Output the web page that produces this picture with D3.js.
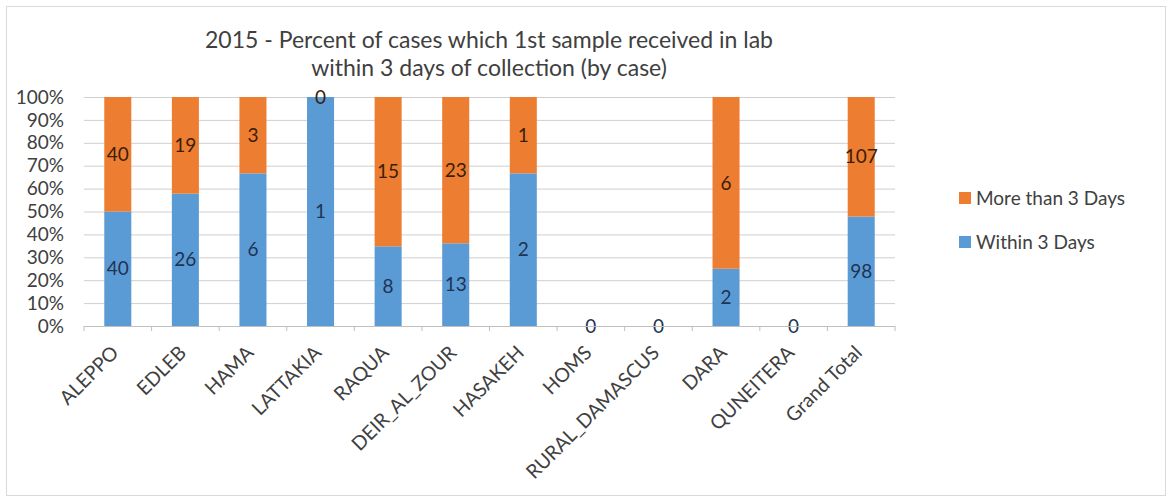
<!DOCTYPE html>
<html>
<head>
<meta charset="utf-8">
<script src="https://cdn.jsdelivr.net/npm/d3@7"></script>
<style>
  body { margin: 0; background: #fff; }
  svg { font-family: Lato, "Open Sans", sans-serif; }
</style>
</head>
<body>
<svg id="chart"></svg>
<script>
const categories = ["ALEPPO", "EDLEB", "HAMA", "LATTAKIA", "RAQUA", "DEIR_AL_ZOUR",
  "HASAKEH", "HOMS", "RURAL_DAMASCUS", "DARA", "QUNEITERA", "Grand Total"];
const within3 = [40, 26, 6, 1, 8, 13, 2, 0, 0, 2, 0, 98];
const moreThan3 = [40, 19, 3, 0, 15, 23, 1, 0, 0, 6, 0, 107];
const yTicks = [0, 0.1, 0.2, 0.3, 0.4, 0.5, 0.6, 0.7, 0.8, 0.9, 1];
const titleLines = ["2015 - Percent of cases which 1st sample received in lab",
  "within 3 days of collection (by case)"];

const width = 1172, height = 502;
const margin = {top: 97, right: 277, bottom: 176, left: 84};
const innerW = width - margin.left - margin.right;
const innerH = height - margin.top - margin.bottom;

const svg = d3.select("#chart").attr("width", width).attr("height", height);

// outer chart border
svg.append("rect")
  .attr("x", 6.5).attr("y", 6.5)
  .attr("width", width - 13).attr("height", height - 13)
  .attr("fill", "none").attr("stroke", "#d9d9d9");

const g = svg.append("g").attr("transform", `translate(${margin.left},${margin.top})`);

const x = d3.scaleBand().domain(categories).range([0, innerW]).paddingInner(0.6).paddingOuter(0.3);
const y = d3.scaleLinear().domain([0, 1]).range([innerH, 0]);

// gridlines
g.append("g")
  .selectAll("line")
  .data(yTicks)
  .join("line")
  .attr("x1", 0).attr("x2", innerW)
  .attr("y1", d => y(d) + 0.5).attr("y2", d => y(d) + 0.5)
  .attr("stroke", "#cfcfcf").attr("stroke-width", 1);

// y labels
g.append("g")
  .selectAll("text")
  .data(yTicks)
  .join("text")
  .attr("x", -20).attr("y", d => y(d))
  .attr("dy", "0.35em")
  .attr("text-anchor", "end")
  .attr("font-size", 19)
  .attr("fill", "#404040")
  .text(d3.format(".0%"));

// stack data
const table = categories.map((c, i) => {
  const tot = within3[i] + moreThan3[i];
  return {group: c, within: within3[i], more: moreThan3[i],
    withinP: tot ? within3[i] / tot : 0, moreP: tot ? moreThan3[i] / tot : 0};
});
const stacked = d3.stack().keys(["withinP", "moreP"])(table);
const color = d3.scaleOrdinal().domain(["withinP", "moreP"]).range(["#5b9bd5", "#ed7d31"]);
const rawKey = {withinP: "within", moreP: "more"};
const labelColor = {withinP: "#1f3352", moreP: "#3b1d08"};

g.append("g")
  .selectAll("g")
  .data(stacked)
  .join("g")
  .attr("fill", d => color(d.key))
  .selectAll("rect")
  .data(d => d)
  .join("rect")
  .attr("x", d => x(d.data.group))
  .attr("y", d => y(d[1]))
  .attr("width", x.bandwidth())
  .attr("height", d => y(d[0]) - y(d[1]));

// value labels
const labels = g.append("g").attr("font-size", 19).attr("text-anchor", "middle");
stacked.forEach(s => {
  labels.selectAll(null)
    .data(s.filter(d => !(s.key === "moreP" && d.data.within + d.data.more === 0)))
    .join("text")
    .attr("x", d => x(d.data.group) + x.bandwidth() / 2)
    .attr("y", d => y((d[0] + d[1]) / 2))
    .attr("dy", "0.35em")
    .attr("fill", labelColor[s.key])
    .text(d => d.data[rawKey[s.key]]);
});

// x axis
const step = x.step();
g.append("line")
  .attr("x1", 0).attr("x2", innerW)
  .attr("y1", innerH + 0.5).attr("y2", innerH + 0.5)
  .attr("stroke", "#bfbfbf");
g.append("g")
  .selectAll("line")
  .data(d3.range(categories.length + 1))
  .join("line")
  .attr("x1", i => i * step).attr("x2", i => i * step)
  .attr("y1", innerH).attr("y2", innerH + 5)
  .attr("stroke", "#bfbfbf");

g.append("g")
  .selectAll("text")
  .data(categories)
  .join("text")
  .attr("transform", d => `translate(${x(d) + x.bandwidth() / 2 + 2},${innerH + 28}) rotate(-45)`)
  .attr("text-anchor", "end")
  .attr("font-size", 19.5)
  .attr("fill", "#404040")
  .text(d => d);

// title
svg.append("g")
  .selectAll("text")
  .data(titleLines)
  .join("text")
  .attr("x", 489).attr("y", (d, i) => 48 + i * 28)
  .attr("text-anchor", "middle")
  .attr("font-size", 23)
  .attr("fill", "#404040")
  .text(d => d);

// legend
const legendItems = [{key: "moreP", name: "More than 3 Days"}, {key: "withinP", name: "Within 3 Days"}];
const legend = svg.append("g").attr("transform", "translate(959,192)");
legend.selectAll("rect")
  .data(legendItems)
  .join("rect")
  .attr("x", 0).attr("y", (d, i) => i * 44)
  .attr("width", 12).attr("height", 12)
  .attr("fill", d => color(d.key));
legend.selectAll("text")
  .data(legendItems)
  .join("text")
  .attr("x", 17).attr("y", (d, i) => i * 44 + 6)
  .attr("dy", "0.35em")
  .attr("font-size", 19)
  .attr("fill", "#404040")
  .text(d => d.name);
</script>
</body>
</html>
